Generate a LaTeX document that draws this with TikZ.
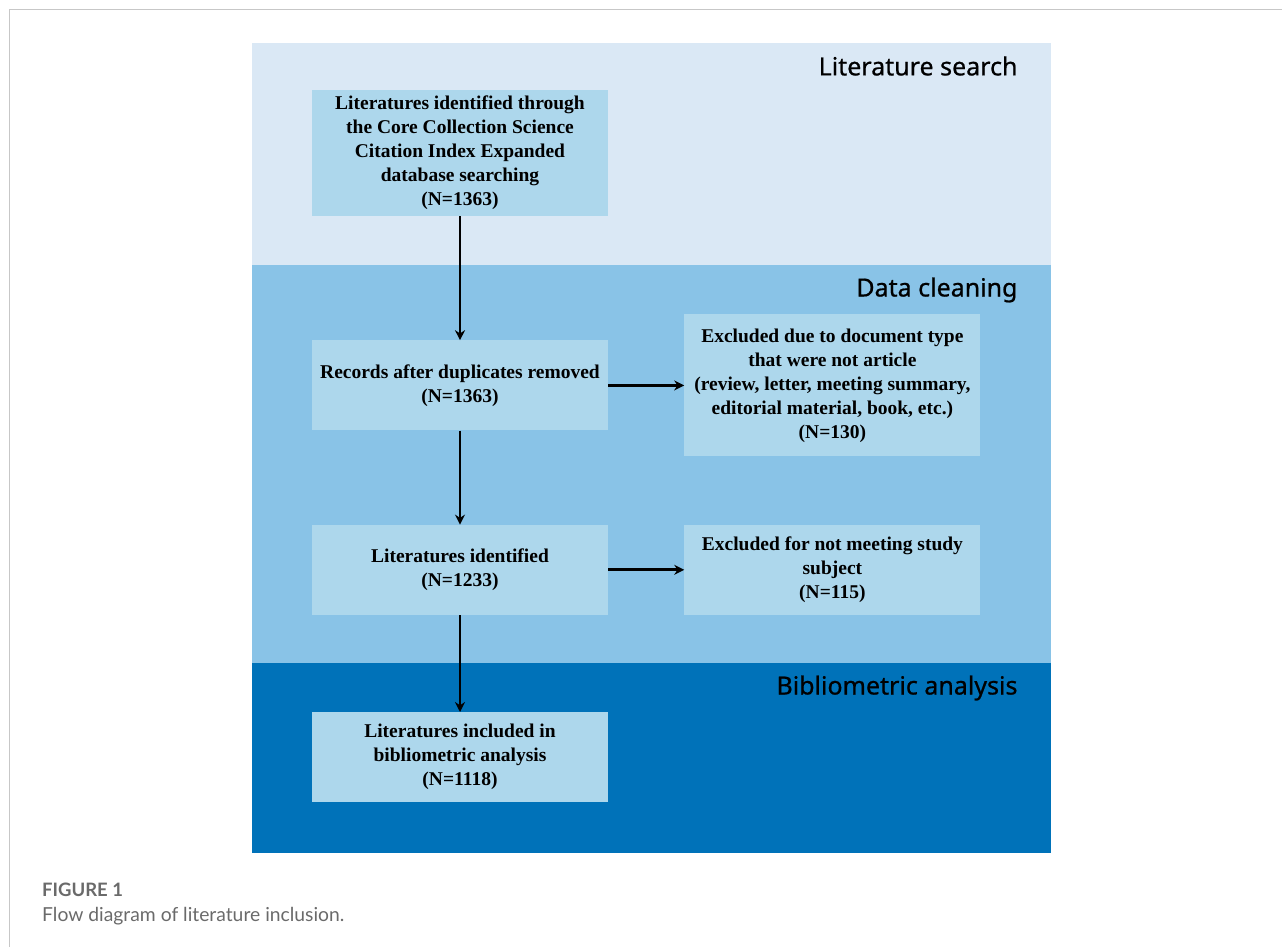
\documentclass[tikz,border=0pt]{standalone}
\usepackage{fontspec}
\setmainfont{Liberation Serif}
\newfontfamily\bandfont[FakeBold=0.7]{Noto Sans}
\newfontfamily\capfont{Lato}
\usepackage{xcolor}
\usetikzlibrary{arrows.meta,positioning}

\definecolor{searchbg}{HTML}{DAE8F5}
\definecolor{cleanbg}{HTML}{89C3E7}
\definecolor{analysisbg}{HTML}{0072B9}
\definecolor{boxfill}{HTML}{ADD7EC}
\definecolor{capgray}{HTML}{6A6A6A}

\begin{document}
\begin{tikzpicture}[
  x=1pt, y=-1pt,
  box/.style={fill=boxfill, align=center, inner sep=0pt,
              minimum width=296pt, minimum height=90pt,
              font=\fontsize{19.5}{24}\selectfont\bfseries},
  bandlabel/.style={anchor=east, font=\bandfont\fontsize{25}{30}\selectfont},
  arr/.style={line width=2.8pt, -{Stealth[length=10pt,width=10pt]}}]
\useasboundingbox (0,0) rectangle (1282,947);
\draw[black!22, line width=1.5pt] (9.5,947) -- (9.5,9.5) -- (1282,9.5);

% three stages
\fill[searchbg]   (252,43)  rectangle (1051,265);
\fill[cleanbg]    (252,265) rectangle (1051,663);
\fill[analysisbg] (252,663) rectangle (1051,853);
\node[bandlabel] (ls) at (1021,66)  {Literature search};
\node[bandlabel] (dc) at (1021,290) {Data cleaning};
\node[bandlabel] (ba) at (1021,688) {Bibliometric analysis};

\node[box, minimum height=126pt] (ident) at (460,153)
  {Literatures identified through\\the Core Collection Science\\Citation Index Expanded\\database searching\\(N=1363)};
\node[box, below=124pt of ident] (dedup) {Records after duplicates removed\\(N=1363)};
\node[box, minimum height=142pt, right=76pt of dedup] (exdoc)
  {Excluded due to document type\\that were not article\\(review, letter, meeting summary,\\editorial material, book, etc.)\\(N=130)};
\node[box, below=94pt of dedup] (litid) {Literatures identified\\(N=1233)};
\node[box, right=76pt of litid] (exsub) {Excluded for not meeting study\\subject\\(N=115)};
\node[box, below=97pt of litid] (incl) {Literatures included in\\bibliometric analysis\\(N=1118)};

\draw[arr] (ident) -- (dedup);
\draw[arr] (dedup) -- (exdoc);
\draw[arr] (dedup) -- (litid);
\draw[arr] (litid) -- (exsub);
\draw[arr] (litid) -- (incl);

\node[anchor=base west, inner sep=0pt, text=capgray, font=\capfont\bfseries\fontsize{18.5}{22}\selectfont] (fig) at (42,896) {FIGURE 1};
\node[anchor=base west, inner sep=0pt, text=capgray, font=\capfont\fontsize{19.3}{22}\selectfont] (cap) at (42,921) {Flow diagram of literature inclusion.};
\end{tikzpicture}
\end{document}
